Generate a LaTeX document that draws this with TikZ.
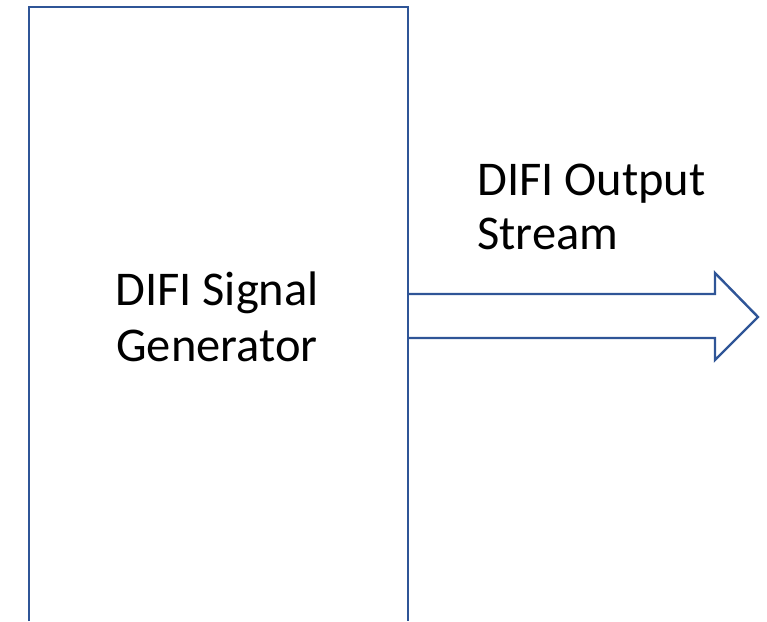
\documentclass[tikz,border=0pt]{standalone}
\usepackage{fontspec}
\setmainfont{Carlito}
\definecolor{edgeblue}{HTML}{2F5597}
\tikzset{
  outline/.style={draw=edgeblue, line width=2.4pt},
  label/.style={inner sep=0pt, font=\fontsize{48.5}{57}\selectfont, text=black}
}
\begin{document}
\begin{tikzpicture}[x=1pt,y=1pt]
\useasboundingbox (0,0) rectangle (767,621);
% generator box (open at bottom, runs past the frame)
\coordinate (bl) at (29,0);
\coordinate (tl) at (29,614);
\coordinate (tr) at (408,614);
\coordinate (br) at (408,0);
\draw[outline, line join=miter] (bl) -- (tl) -- (tr) -- (br);
% output arrow
\coordinate (a1) at (408,327);
\coordinate (a2) at (715,327);
\coordinate (a3) at (715,348);
\coordinate (tip) at (758,304);
\coordinate (a5) at (715,261);
\coordinate (a6) at (715,283);
\coordinate (a7) at (408,283);
\draw[outline, line join=miter] (a1) -- (a2) -- (a3) -- (tip) -- (a5) -- (a6) -- (a7);
% texts
\node[label, anchor=base] (gen1) at (217,315) {DIFI Signal};
\node[label, anchor=base] (gen2) at (217,259) {Generator};
\node[label, anchor=base west] (out1) at (477,425) {DIFI Output};
\node[label, anchor=base west] (out2) at (477,371) {Stream};
\end{tikzpicture}
\end{document}
